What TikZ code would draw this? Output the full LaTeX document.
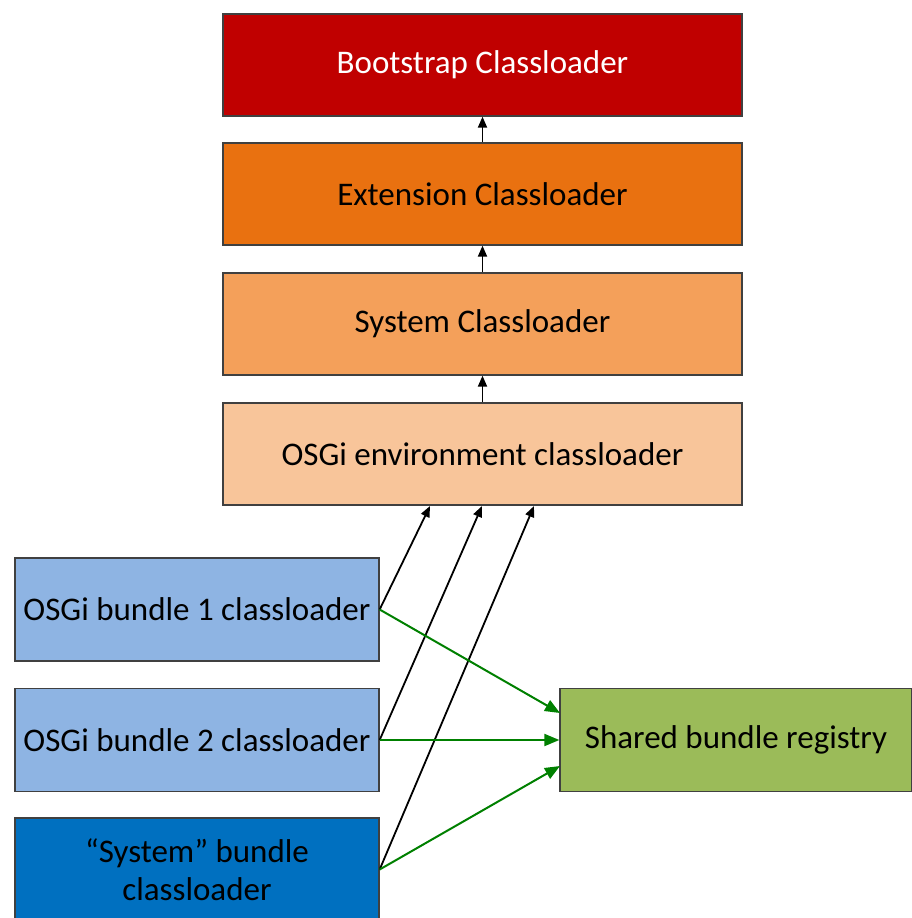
\documentclass[tikz,border=0pt]{standalone}
\usepackage{fontspec}
\setmainfont{Carlito}
\usetikzlibrary{arrows.meta}
\definecolor{bootred}{RGB}{192,0,0}
\definecolor{extorange}{RGB}{233,113,16}
\definecolor{sysorange}{RGB}{244,160,90}
\definecolor{envpeach}{RGB}{248,197,154}
\definecolor{bundleblue}{RGB}{142,180,227}
\definecolor{sysblue}{RGB}{0,112,192}
\definecolor{regreen}{RGB}{155,187,89}
\definecolor{boxline}{RGB}{64,64,64}
\definecolor{linkgreen}{RGB}{0,128,0}
\tikzset{
  loaderbox/.style={draw=boxline, line width=1.3pt, rectangle, inner sep=0pt,
    font=\fontsize{33}{38}\selectfont, align=center},
  parentarrow/.style={-{Triangle[length=11pt,width=9pt]}, line width=1.8pt, black},
  regarrow/.style={-{Triangle[length=15pt,width=12pt]}, line width=2pt, linkgreen},
}
\begin{document}
\begin{tikzpicture}[x=1pt,y=-1pt]
\useasboundingbox (0,0) rectangle (912,918);
% JVM classloader hierarchy
\node[loaderbox, fill=bootred, text=white, minimum width=519pt, minimum height=102pt] (boot) at (482.5,65) {Bootstrap Classloader};
\node[loaderbox, fill=extorange, minimum width=519pt, minimum height=102pt] (ext) at (482.5,194) {Extension Classloader};
\node[loaderbox, fill=sysorange, minimum width=519pt, minimum height=102pt] (sys) at (482.5,324) {System Classloader};
\node[loaderbox, fill=envpeach, minimum width=519pt, minimum height=102pt] (env) at (482.5,454) {OSGi environment classloader};
% bundle classloaders
\node[loaderbox, fill=bundleblue, minimum width=364pt, minimum height=103pt] (b1) at (197,609.5) {OSGi bundle 1 classloader};
\node[loaderbox, fill=bundleblue, minimum width=364pt, minimum height=103pt] (b2) at (197,740) {OSGi bundle 2 classloader};
\node[loaderbox, fill=sysblue, minimum width=364pt, minimum height=103pt] (sb) at (197,869.5) {“System” bundle\\classloader};
\node[loaderbox, fill=regreen, minimum width=352pt, minimum height=103pt] (reg) at (736,740) {Shared bundle registry};
% parent delegation
\draw[parentarrow] (ext.north) -- (boot.south);
\draw[parentarrow] (sys.north) -- (ext.south);
\draw[parentarrow] (env.north) -- (sys.south);
\coordinate (e1) at (430,506);
\coordinate (e2) at (482,506);
\coordinate (e3) at (534,506);
\draw[parentarrow] (b1.east) -- (e1);
\draw[parentarrow] (b2.east) -- (e2);
\draw[parentarrow] (sb.east) -- (e3);
% registry links
\coordinate (r1) at (560,713);
\coordinate (r3) at (560,766);
\draw[regarrow] (b1.east) -- (r1);
\draw[regarrow] (b2.east) -- (reg.west);
\draw[regarrow] (sb.east) -- (r3);
\end{tikzpicture}
\end{document}
